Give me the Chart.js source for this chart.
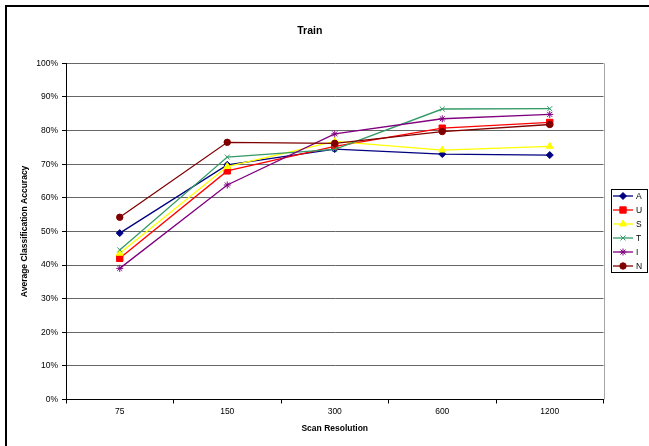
<!DOCTYPE html>
<html>
<head>
<meta charset="utf-8">
<script src="https://cdn.jsdelivr.net/npm/chart.js@4/dist/chart.umd.min.js"></script>
<style>
  html, body { margin: 0; padding: 0; background: #fff; }
  #wrap { width: 649px; height: 446px; position: relative; }
</style>
</head>
<body>
<div id="wrap"><canvas id="c" width="649" height="446"></canvas></div>
<script>
// Scan resolutions (dpi) on the x axis
const resolutions = ['75', '150', '300', '600', '1200'];

// Average classification accuracy (%) per series
const seriesA = [49.5, 69.8, 74.5, 73.0, 72.7];
const seriesU = [42.0, 68.0, 75.3, 80.7, 82.4];
const seriesS = [43.5, 69.3, 76.8, 74.2, 75.3];
const seriesT = [44.5, 72.1, 74.4, 86.4, 86.5];
const seriesI = [39.0, 63.8, 79.0, 83.5, 84.8];
const seriesN = [54.2, 76.5, 76.2, 79.7, 81.8];

// Y axis tick values (%)
const yTicks = [0, 10, 20, 30, 40, 50, 60, 70, 80, 90, 100];

const FONT = '"Liberation Sans", Arial, Helvetica, sans-serif';

function series(label, data, color, style, radius, filled, order) {
  return {
    label, data, order,
    borderColor: color,
    backgroundColor: color,
    borderWidth: 1.3,
    tension: 0,
    pointStyle: style,
    pointRadius: radius,
    pointHoverRadius: radius,
    pointBackgroundColor: filled ? color : 'rgba(0,0,0,0)',
    pointBorderColor: color,
    pointBorderWidth: 1
  };
}

const datasets = [
  series('A', seriesA, '#000080', 'rectRot', 3.5, true, 5),
  series('U', seriesU, '#ff0000', 'rect', 4.5, true, 4),
  series('S', seriesS, '#ffff00', 'triangle', 4, true, 3),
  series('T', seriesT, '#339966', 'crossRot', 3.5, false, 2),
  series('I', seriesI, '#800080', 'star', 3.5, false, 1),
  series('N', seriesN, '#800000', 'circle', 3.2, true, 0)
];

// White page with the heavy frame along the left and top edges
const framePlugin = {
  id: 'frame',
  beforeDraw(chart) {
    const ctx = chart.ctx;
    ctx.save();
    ctx.fillStyle = '#fff';
    ctx.fillRect(0, 0, chart.width, chart.height);
    ctx.strokeStyle = '#000';
    ctx.lineWidth = 2;
    ctx.beginPath();
    ctx.moveTo(6, chart.height + 10);
    ctx.lineTo(6, 6);
    ctx.lineTo(chart.width + 10, 6);
    ctx.stroke();
    ctx.restore();
  },
  beforeDatasetsDraw(chart) {
    const { ctx, chartArea } = chart;
    ctx.save();
    ctx.strokeStyle = '#a6a6a6';
    ctx.lineWidth = 1;
    const x = Math.round(chartArea.right) + 0.5;
    ctx.beginPath();
    ctx.moveTo(x, chartArea.top);
    ctx.lineTo(x, chartArea.bottom);
    ctx.stroke();
    ctx.restore();
  }
};

// Boxed legend at the right with line + marker samples
const legendPlugin = {
  id: 'boxLegend',
  afterDraw(chart) {
    const ctx = chart.ctx;
    ctx.save();
    ctx.strokeStyle = '#000';
    ctx.lineWidth = 1;
    ctx.strokeRect(611.5, 189.5, 36, 83);
    ctx.font = '8.5px ' + FONT;
    ctx.textBaseline = 'middle';
    ctx.textAlign = 'left';
    chart.data.datasets.forEach((ds, i) => {
      const y = 196 + i * 14;
      ctx.strokeStyle = ds.borderColor;
      ctx.lineWidth = ds.borderWidth;
      ctx.beginPath();
      ctx.moveTo(613, y);
      ctx.lineTo(633, y);
      ctx.stroke();
      ctx.fillStyle = ds.pointBackgroundColor;
      ctx.strokeStyle = ds.pointBorderColor;
      ctx.lineWidth = 1;
      Chart.helpers.drawPoint(ctx, {
        pointStyle: ds.pointStyle, radius: ds.pointRadius, rotation: 0, borderWidth: 1
      }, 623, y);
      ctx.fillStyle = '#000';
      ctx.fillText(ds.label, 636, y + 0.5);
    });
    ctx.restore();
  }
};

new Chart(document.getElementById('c'), {
  type: 'line',
  data: { labels: resolutions, datasets },
  plugins: [framePlugin, legendPlugin],
  options: {
    responsive: false,
    animation: false,
    devicePixelRatio: 1,
    layout: { padding: { left: 16, right: 45.5, top: 0, bottom: 8 } },
    plugins: {
      legend: { display: false },
      tooltip: { enabled: false },
      title: {
        display: true,
        text: 'Train',
        color: '#000',
        font: { family: FONT, size: 10.5, weight: 'bold', lineHeight: 1.2 },
        padding: { top: 25, bottom: 25.7 }
      }
    },
    scales: {
      x: {
        offset: true,
        grid: {
          offset: true,
          drawOnChartArea: false,
          drawTicks: true,
          tickLength: 4,
          tickColor: '#000'
        },
        border: { color: '#000', width: 1 },
        ticks: { color: '#000', padding: 3, font: { family: FONT, size: 8.5 }, maxRotation: 0 },
        title: {
          display: true,
          text: 'Scan Resolution',
          color: '#000',
          font: { family: FONT, size: 8.5, weight: 'bold', lineHeight: 1.2 },
          padding: { top: 0, bottom: 4 }
        },
        afterFit(scale) { scale.height = 38.5; }
      },
      y: {
        min: 0,
        max: 100,
        afterBuildTicks(scale) { scale.ticks = yTicks.map(v => ({ value: v })); },
        grid: {
          color: '#666',
          lineWidth: 1,
          drawTicks: true,
          tickLength: 4,
          tickColor: '#000'
        },
        border: { color: '#000', width: 1 },
        ticks: {
          color: '#000',
          padding: 4,
          font: { family: FONT, size: 8.5 },
          callback: v => v + '%'
        },
        title: {
          display: true,
          text: 'Average Classification Accuracy',
          color: '#000',
          font: { family: FONT, size: 8.5, weight: 'bold', lineHeight: 1.2 },
          padding: { top: 4, bottom: 0 }
        },
        afterFit(scale) { scale.width = 50; }
      }
    }
  }
});
</script>
</body>
</html>
